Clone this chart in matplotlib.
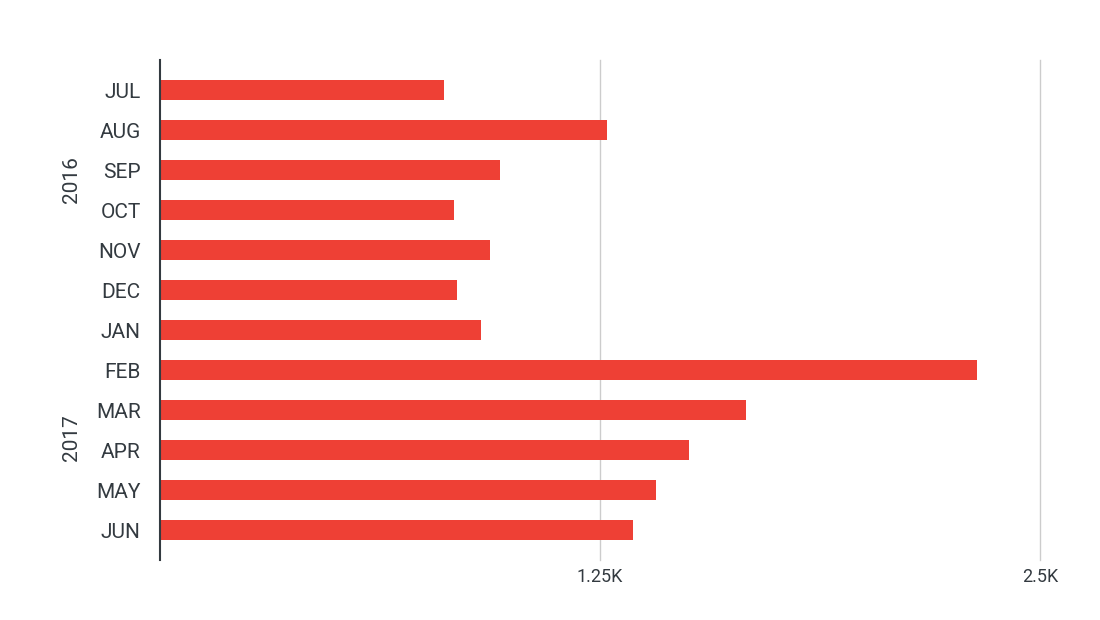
import matplotlib
matplotlib.use("Agg")
import matplotlib.pyplot as plt

plt.rcParams['font.family'] = ['Roboto', 'DejaVu Sans']

meses = ['JUL', 'AUG', 'SEP', 'OCT', 'NOV', 'DEC',
         'JAN', 'FEB', 'MAR', 'APR', 'MAY', 'JUN']
valores = [807, 1270, 966, 835, 938, 844,
           912, 2321, 1665, 1503, 1409, 1344]
anios = ['2016', '2017']
pos_anios = [2.25, 8.7]
ticks_x = [1250, 2500]
etiquetas_x = ['1.25K', '2.5K']

color_barra = '#ee4035'
color_texto = '#333a40'

fig = plt.figure(figsize=(11, 6.2), dpi=100)
ax = fig.add_axes([160 / 1100, 60 / 620, 880 / 1100, 500 / 620])

y = list(range(len(meses)))
ax.barh(y, valores, height=0.5, color=color_barra, zorder=3)

ax.set_xlim(0, 2500)
ax.set_ylim(11.75, -0.75)

ax.set_yticks(y)
ax.set_yticklabels(meses, fontsize=15, color=color_texto)
ax.set_xticks(ticks_x)
ax.set_xticklabels(etiquetas_x, fontsize=13, color=color_texto)
ax.tick_params(axis='y', length=0, pad=14)
ax.tick_params(axis='x', length=0, pad=6)

ax.grid(axis='x', color='#cccccc', linewidth=1, zorder=0)
for g in ax.xaxis.get_gridlines():
    g.set_clip_on(False)
for s in ['top', 'right', 'bottom']:
    ax.spines[s].set_visible(False)
ax.spines['left'].set_color(color_texto)
ax.spines['left'].set_linewidth(1.5)
ax.spines['left'].set_zorder(4)

for anio, p in zip(anios, pos_anios):
    ax.text(-88 / 880 * 2500, p, anio, rotation=90, fontsize=15,
            color=color_texto, ha='center', va='center')

fig.savefig('out.png', dpi=100)
